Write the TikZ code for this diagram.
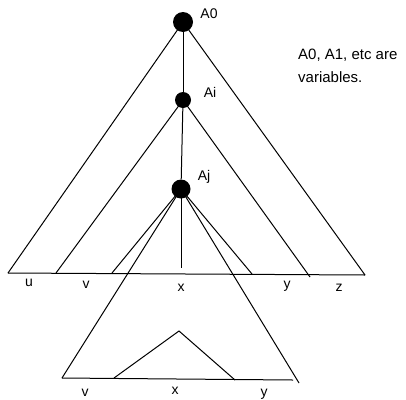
\documentclass[tikz,border=0pt]{standalone}
\usepackage{fontspec}
\setmainfont{Liberation Sans}
\begin{document}
\begin{tikzpicture}[x=1pt,y=-1pt,
  dot/.style={circle,fill=black,inner sep=0pt},
  edge/.style={draw=black,line width=1pt},
  lbl/.style={font=\fontsize{14}{16}\selectfont,inner sep=0pt,anchor=base},
  note/.style={font=\fontsize{15}{17}\selectfont,inner sep=0pt,anchor=base west}]
\useasboundingbox (0,0) rectangle (406,399);
% nodes (dots)
\node[dot,minimum size=20pt] (A0) at (183,22) {};
\node[dot,minimum size=16pt] (Ai) at (183,100) {};
\node[dot,minimum size=19pt] (Aj) at (181,189) {};
% coordinates of leaf ends
\coordinate (uL) at (8,273);
\coordinate (zR) at (365,275);
\coordinate (vL) at (56,273);
\coordinate (yR) at (310,277);
\coordinate (xL) at (112,273);
\coordinate (xR) at (252,274);
\coordinate (xB) at (181,268);
\coordinate (bL) at (62,378);
\coordinate (bR) at (299,383);
\coordinate (bE) at (293,380);
\coordinate (tT) at (179,331);
\coordinate (tL) at (114,378);
\coordinate (tR) at (235,380);
% upper tree
\draw[edge] (uL) -- (A0.center) -- (zR);
\draw[edge] (uL) -- (zR);
\draw[edge] (A0) -- (Ai);
\draw[edge] (vL) -- (Ai.center) -- (yR);
\draw[edge] (Ai) -- (Aj);
\draw[edge] (xL) -- (Aj.center) -- (xR);
\draw[edge] (Aj.center) -- (xB);
% lower tree
\draw[edge] (bL) -- (Aj.center) -- (bR);
\draw[edge] (bL) -- (bE);
\draw[edge] (tL) -- (tT) -- (tR);
% labels
\node[lbl] (lA0) at (209,18) {A0};
\node[lbl] (lAi) at (210,97) {Ai};
\node[lbl] (lAj) at (204,180) {Aj};
\node[note] (note1) at (298,59.5) {A0, A1, etc are};
\node[note] (note2) at (298,82) {variables.};
\node[lbl] (lu) at (29,286) {u};
\node[lbl] (lv) at (86,288) {v};
\node[lbl] (lx) at (181,291) {x};
\node[lbl] (ly) at (287,288) {y};
\node[lbl] (lz) at (339,291) {z};
\node[lbl] (lv2) at (85,396) {v};
\node[lbl] (lx2) at (175,394) {x};
\node[lbl] (ly2) at (264,396) {y};
\end{tikzpicture}
\end{document}
